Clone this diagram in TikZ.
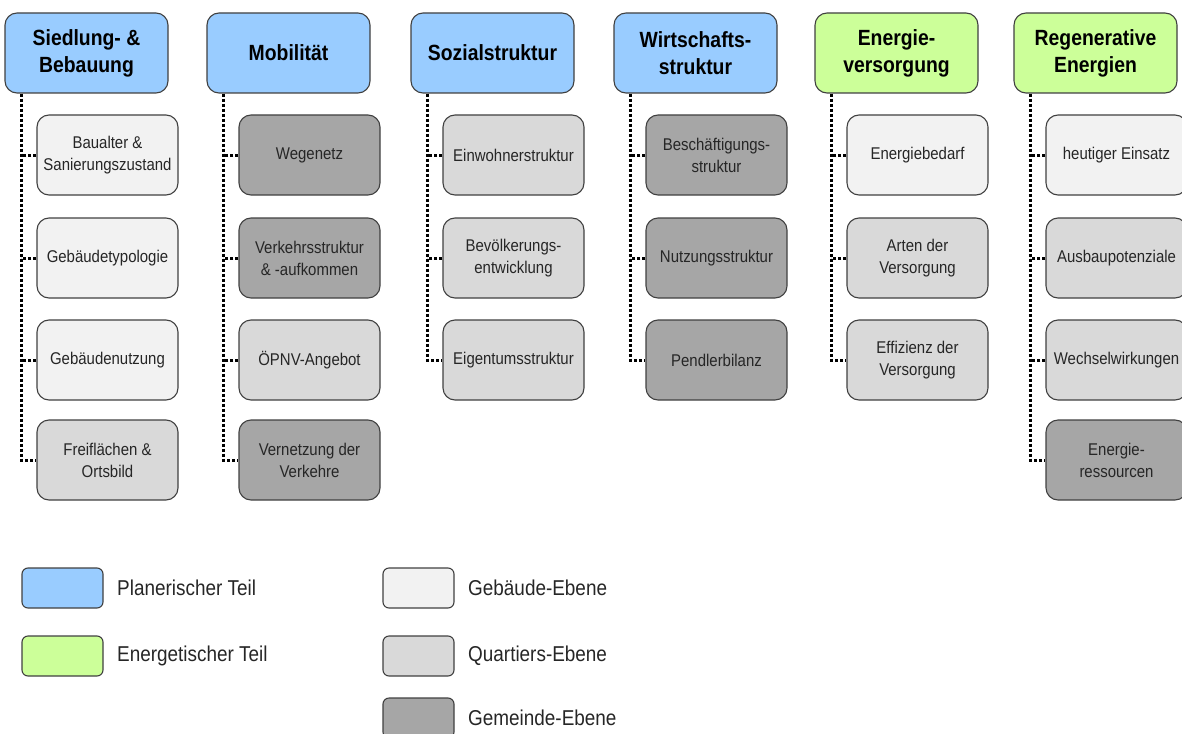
\documentclass[tikz,border=0pt]{standalone}
\usepackage{fontspec}
\setmainfont{Liberation Sans}[FakeStretch=0.88]
\definecolor{cblue}{HTML}{99CCFF}
\definecolor{cgreen}{HTML}{CCFF99}
\definecolor{clight}{HTML}{F2F2F2}
\definecolor{cmid}{HTML}{D9D9D9}
\definecolor{cdark}{HTML}{A6A6A6}
\definecolor{cborder}{HTML}{404040}
\definecolor{ctext}{HTML}{262626}
\tikzset{
  hdr/.style={draw=cborder, line width=1.1pt, rounded corners=12pt, minimum width=163pt, minimum height=80pt, inner sep=0pt, align=center, font=\fontsize{22}{27}\selectfont\bfseries, text=black},
  child/.style={draw=cborder, line width=1.1pt, rounded corners=12pt, minimum width=141pt, minimum height=80pt, inner sep=0pt, align=center, font=\fontsize{17}{22}\selectfont, text=ctext},
  legbox/.style={draw=cborder, line width=1.1pt, rounded corners=6pt, minimum height=40pt, inner sep=0pt},
  legtext/.style={anchor=west, inner sep=0pt, font=\fontsize{21.5}{24}\selectfont, text=ctext},
  dotline/.style={line width=3pt, dash pattern=on 3pt off 2pt, black}
}
\begin{document}
\begin{tikzpicture}[x=1pt,y=-1pt]
\useasboundingbox (0,0) rectangle (1182,733);
\clip (0,0) rectangle (1182,733);
% headers
\node[hdr, fill=cblue]  (h1) at (86.5,53)  {Siedlung- \&\\Bebauung};
\node[hdr, fill=cblue]  (h2) at (288.5,53) {Mobilität};
\node[hdr, fill=cblue]  (h3) at (492.5,53) {Sozialstruktur};
\node[hdr, fill=cblue]  (h4) at (695.5,53) {Wirtschafts-\\struktur};
\node[hdr, fill=cgreen] (h5) at (896.5,53) {Energie-\\versorgung};
\node[hdr, fill=cgreen] (h6) at (1095.5,53) {Regenerative\\Energien};
% column 1
\node[child, fill=clight] (c11) at (107.5,155) {Baualter \&\\Sanierungszustand};
\node[child, fill=clight] (c12) at (107.5,258) {Gebäudetypologie};
\node[child, fill=clight] (c13) at (107.5,360) {Gebäudenutzung};
\node[child, fill=cmid]   (c14) at (107.5,460) {Freiflächen \&\\Ortsbild};
% column 2
\node[child, fill=cdark] (c21) at (309.5,155) {Wegenetz};
\node[child, fill=cdark] (c22) at (309.5,258) {Verkehrsstruktur\\\& -aufkommen};
\node[child, fill=cmid]  (c23) at (309.5,360) {ÖPNV-Angebot};
\node[child, fill=cdark] (c24) at (309.5,460) {Vernetzung der\\Verkehre};
% column 3
\node[child, fill=cmid] (c31) at (513.5,155) {Einwohnerstruktur};
\node[child, fill=cmid] (c32) at (513.5,258) {Bevölkerungs-\\entwicklung};
\node[child, fill=cmid] (c33) at (513.5,360) {Eigentumsstruktur};
% column 4
\node[child, fill=cdark] (c41) at (716.5,155) {Beschäftigungs-\\struktur};
\node[child, fill=cdark] (c42) at (716.5,258) {Nutzungsstruktur};
\node[child, fill=cdark] (c43) at (716.5,360) {Pendlerbilanz};
% column 5
\node[child, fill=clight] (c51) at (917.5,155) {Energiebedarf};
\node[child, fill=cmid]   (c52) at (917.5,258) {Arten der\\Versorgung};
\node[child, fill=cmid]   (c53) at (917.5,360) {Effizienz der\\Versorgung};
% column 6
\node[child, fill=clight] (c61) at (1116.5,155) {heutiger Einsatz};
\node[child, fill=cmid]   (c62) at (1116.5,258) {Ausbaupotenziale};
\node[child, fill=cmid]   (c63) at (1116.5,360) {Wechselwirkungen};
\node[child, fill=cdark]  (c64) at (1116.5,460) {Energie-\\ressourcen};
% connectors
\foreach \h/\last/\kids in {1/4/{1,2,3},2/4/{1,2,3},3/3/{1,2},4/3/{1,2},5/3/{1,2},6/4/{1,2,3}}{
  \coordinate (v\h) at ([xshift=17pt]h\h.south west);
  \draw[dotline] (v\h) |- (c\h\last.west);
  \foreach \k in \kids { \draw[dotline] (c\h\k.west) -- (c\h\k.west -| v\h); }
}
% legend
\node[legbox, fill=cblue,  minimum width=81pt] (l1) at (62.5,588) {};
\node[legbox, fill=cgreen, minimum width=81pt] (l2) at (62.5,656) {};
\node[legbox, fill=clight, minimum width=71pt] (l3) at (418.5,588) {};
\node[legbox, fill=cmid,   minimum width=71pt] (l4) at (418.5,656) {};
\node[legbox, fill=cdark,  minimum width=71pt] (l5) at (418.5,718) {};
\node[legtext] (t1) at (117,588) {Planerischer Teil};
\node[legtext] (t2) at (117,656) {Energetischer Teil};
\node[legtext] (t3) at (468,588) {Gebäude-Ebene};
\node[legtext] (t4) at (468,656) {Quartiers-Ebene};
\node[legtext] (t5) at (468,718) {Gemeinde-Ebene};
\end{tikzpicture}
\end{document}
